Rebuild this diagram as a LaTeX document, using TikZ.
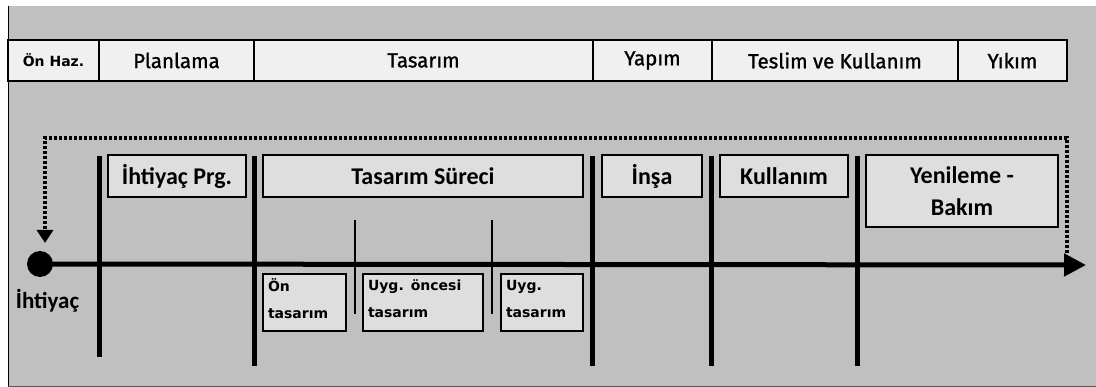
\documentclass[tikz,border=0pt]{standalone}
\usepackage{fontspec}
\setmainfont{Carlito}
\newfontfamily\topfont[FakeBold=1.2]{Fira Sans}
\newfontfamily\smallfont{DejaVu Sans}
\usetikzlibrary{arrows.meta}
\definecolor{bggray}{HTML}{C0C0C0}
\definecolor{barfill}{HTML}{F0F0F0}
\definecolor{boxfill}{HTML}{DEDEDE}
\tikzset{
  topcell/.style={draw=black, line width=2pt, fill=barfill, minimum height=41pt, inner sep=0pt, font=\topfont\fontsize{20.5}{22}\selectfont},
  stagebox/.style={draw=black, line width=2pt, fill=boxfill, minimum height=42pt, inner sep=0pt, font=\bfseries\fontsize{24}{32}\selectfont, align=center},
  subbox/.style={draw=black, line width=2pt, fill=boxfill, minimum height=57pt, inner sep=0pt, text depth=35pt, font=\smallfont\bfseries\fontsize{14}{27}\selectfont},
  thickdiv/.style={line width=5pt},
  thindiv/.style={line width=2.4pt},
  axis/.style={line width=5pt, -{Triangle[length=22pt,width=22pt]}},
  loop/.style={line width=3.4pt, dash pattern=on 3pt off 2pt, -{Triangle[length=13pt,width=16pt]}},
}
\begin{document}
\begin{tikzpicture}[x=1pt,y=-1pt]
\useasboundingbox (0,0) rectangle (1096,387);
% background
\fill[bggray] (8,6) rectangle (1096,387);
\draw[line width=1.4pt] (8.7,6) -- (8.7,387);
\draw[gray!70!black, line width=1pt] (8,386.5) -- (1096,386.5);

% top bar
\node[topcell, minimum width=91pt, font=\smallfont\bfseries\fontsize{14}{16}\selectfont] (onhaz) at (53.5,60.5) {Ön Haz.};
\node[topcell, minimum width=155pt] (plan) at (176.5,60.5) {Planlama};
\node[topcell, minimum width=339pt] (tas) at (423.5,60.5) {Tasarım};
\node[topcell, minimum width=119pt] (yap) at (652.5,60.5) {Yapım};
\node[topcell, minimum width=246pt] (tes) at (835,60.5) {Teslim ve Kullanım};
\node[topcell, minimum width=109pt] (yik) at (1012.5,60.5) {Yıkım};

% dividers
\coordinate (d1t) at (99,156);  \coordinate (d1b) at (99,357);
\coordinate (d2t) at (254,156); \coordinate (d2b) at (254,366);
\coordinate (d3t) at (592,156); \coordinate (d3b) at (592,366);
\coordinate (d4t) at (711,156); \coordinate (d4b) at (711,366);
\coordinate (d5t) at (857,156); \coordinate (d5b) at (857,366);
\coordinate (s1t) at (355,220); \coordinate (s1b) at (355,314);
\coordinate (s2t) at (492,220); \coordinate (s2b) at (492,314);

% axis
\node[circle, fill=black, minimum size=26pt, inner sep=0pt] (start) at (40,264) {};
\coordinate (axend) at (1086,265);
\draw[axis] (start.center) -- (axend);

\foreach \i in {1,...,5} { \draw[thickdiv] (d\i t) -- (d\i b); }
\draw[thindiv] (s1t) -- (s1b);
\draw[thindiv] (s2t) -- (s2b);

% loop back
\coordinate (loopA) at (1067,253);
\coordinate (loopB) at (1067,138);
\coordinate (loopC) at (45,138);
\coordinate (loopD) at (45,243);
\draw[loop] (loopA) -- (loopB) -- (loopC) -- (loopD);

% stage boxes
\node[stagebox, minimum width=138pt] (prg) at (177,176) {İhtiyaç Prg.};
\node[stagebox, minimum width=320pt] (surec) at (423,176) {Tasarım Süreci};
\node[stagebox, minimum width=100pt] (insa) at (652,176) {İnşa};
\node[stagebox, minimum width=128pt] (kul) at (784,176) {Kullanım};
\node[stagebox, minimum width=192pt, minimum height=72pt] (yen) at (962,191) {Yenileme -\\Bakım};

% sub boxes
\node[subbox, minimum width=83pt, text width=73pt, align=left] (ontas) at (304.5,302.5) {Ön\\tasarım};
\node[subbox, minimum width=120pt, text width=110pt, align=left] (uygo) at (423,302.5) {Uyg. öncesi\\tasarım};
\node[subbox, minimum width=82pt, text width=72pt, align=left] (uygt) at (542,302.5) {Uyg.\\tasarım};

% label
\node[font=\bfseries\fontsize{23}{26}\selectfont, inner sep=0pt] (iht) at (47.5,301) {İhtiyaç};
\end{tikzpicture}
\end{document}
